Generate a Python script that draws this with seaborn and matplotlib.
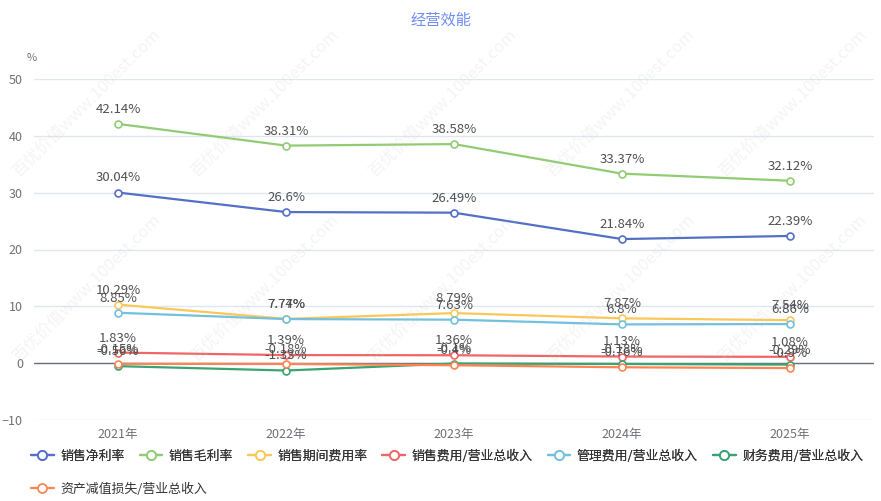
import matplotlib
matplotlib.use("Agg")
import matplotlib.pyplot as plt
from matplotlib.lines import Line2D
import seaborn as sns
import pandas as pd

years = ["2021年", "2022年", "2023年", "2024年", "2025年"]
net_margin = [30.04, 26.6, 26.49, 21.84, 22.39]
gross_margin = [42.14, 38.31, 38.58, 33.37, 32.12]
period_expense = [10.29, 7.77, 8.79, 7.87, 7.54]
selling_expense = [1.83, 1.39, 1.36, 1.13, 1.08]
admin_expense = [8.85, 7.74, 7.63, 6.8, 6.86]
finance_expense = [-0.56, -1.33, -0.1, -0.18, -0.29]
impairment = [-0.15, -0.18, -0.4, -0.76, -0.9]

series_names = ["销售净利率", "销售毛利率", "销售期间费用率", "销售费用/营业总收入",
                "管理费用/营业总收入", "财务费用/营业总收入", "资产减值损失/营业总收入"]
series_values = [net_margin, gross_margin, period_expense, selling_expense,
                 admin_expense, finance_expense, impairment]
colors = ["#5470c6", "#91cc75", "#fac858", "#ee6666", "#73c0de", "#3ba272", "#fc8452"]

rows = []
for name, vals in zip(series_names, series_values):
    for y, v in zip(years, vals):
        rows.append({"year": y, "series": name, "value": v})
df = pd.DataFrame(rows)

sns.set_theme(style="white")
plt.rcParams["font.family"] = ["Noto Sans CJK SC", "DejaVu Sans"]

W, H = 881, 501
fig = plt.figure(figsize=(W / 100, H / 100), dpi=100)
ax = fig.add_axes([34 / W, 1 - 419.7 / H, 840 / W, 340.4 / H])

for i, (name, c) in enumerate(zip(series_names, colors)):
    sub = df[df["series"] == name]
    sns.lineplot(data=sub, x="year", y="value", color=c, marker="o", ms=5,
                 mfc="white", mec=c, mew=1.2, lw=1.6, ax=ax, zorder=3 + i)

# labels on top of all lines
for name, vals in zip(series_names, series_values):
    for i, v in enumerate(vals):
        ax.annotate(f"{v}%", (i, v), xytext=(0, 10.5), textcoords="offset points",
                    ha="center", va="center", fontsize=9.5, color="#505050", zorder=20)

ax.set_xlim(-0.5, 4.5)
ax.set_ylim(-10, 50)
ax.set_yticks([-10, 0, 10, 20, 30, 40, 50])
ax.set_xlabel("")
ax.set_ylabel("")
ax.grid(axis="y", color="#e0e6f1", lw=1)
ax.grid(axis="x", visible=False)
ax.axhline(0, color="#6e7079", lw=1, zorder=2)
for s in ax.spines.values():
    s.set_visible(False)
ax.tick_params(axis="y", length=0, pad=8, labelsize=9, labelcolor="#6e7079")
ax.tick_params(axis="x", length=0, pad=6, labelsize=9, labelcolor="#6e7079")

fig.text(441 / W, 1 - 20 / H, "经营效能", ha="center", va="center",
         fontsize=11, color="#6d8cf5")
fig.text(32 / W, 1 - 58 / H, "%", ha="center", va="center", fontsize=8, color="#6e7079")

handles = [Line2D([], [], color=c, lw=1.6, marker="o", ms=6.5, mfc="white", mec=c, mew=1.3)
           for c in colors]
leg_kw = dict(frameon=False, fontsize=9.3, handlelength=1.77, handletextpad=0.5,
              columnspacing=1.15, borderpad=0, borderaxespad=0, labelcolor="#333333")
leg1 = fig.legend(handles[:6], series_names[:6], loc="center left", ncol=6,
                  bbox_to_anchor=(31 / W, 1 - 456 / H), **leg_kw)
fig.add_artist(leg1)
fig.legend(handles[6:], series_names[6:], loc="center left", ncol=1,
           bbox_to_anchor=(31 / W, 1 - 489 / H), **leg_kw)

# faint watermark
for y0 in [180, 365]:
    for x0 in [22, 200, 378, 556, 728]:
        fig.text(x0 / W, 1 - y0 / H, "百优价值www.100est.com", rotation=45,
                 rotation_mode="anchor", ha="left", va="bottom", fontsize=12,
                 color="#cccccc", alpha=0.22, zorder=30)

fig.savefig("out.png", dpi=100)
